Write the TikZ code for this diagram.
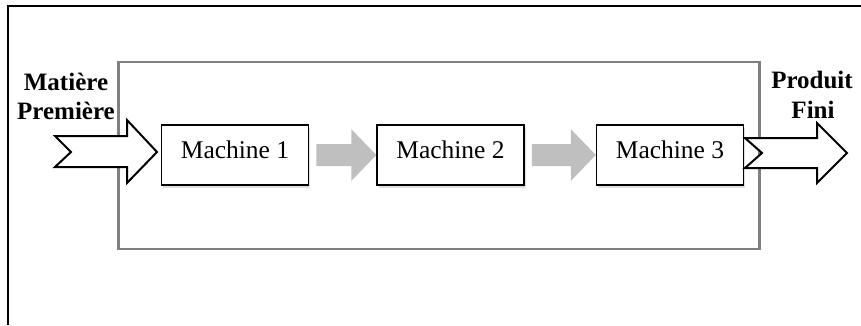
\documentclass[tikz,border=0pt]{standalone}
\usepackage{fontspec}
\setmainfont{Liberation Serif}
\usetikzlibrary{positioning,calc,shadows}

\tikzset{
  machine/.style={draw,line width=1.5pt,fill=white,minimum width=147pt,minimum height=60pt,
    text depth=11pt,font=\fontsize{25.5}{30}\selectfont,
    drop shadow={shadow xshift=1.5pt,shadow yshift=-2.5pt,opacity=0.25}},
  bigarrow/.style={draw,fill=white,line width=2pt,line join=miter},
  flowarrow/.style={fill=gray!50},
  label/.style={anchor=base,inner sep=0,font=\fontsize{25}{30}\selectfont\bfseries}
}

\begin{document}
\begin{tikzpicture}[x=1pt,y=-1pt]
  \useasboundingbox (0,0) rectangle (861,325);

  % frame
  \draw[line width=2pt] (8,325) -- (8,6) -- (861,6);

  % system
  \node[draw=gray,line width=2.5pt,minimum width=641pt,minimum height=187pt,inner sep=0] (sys) at (438.8,155.5) {};

  \node[machine] (m1) at (235,155) {Machine 1};
  \node[machine,right=67pt of m1] (m2) {Machine 2};
  \node[machine,right=71pt of m2] (m3) {Machine 3};

  \foreach \a/\b in {m1/m2,m2/m3}
    \fill[flowarrow] let \p1=(\a.east), \p2=(\b.west) in
      (\x1+7pt,\y1+11pt) -- (\x2-25pt,\y1+11pt) -- (\x2-25pt,\y1+26pt) -- (\x2,\y1)
      -- (\x2-25pt,\y1-26pt) -- (\x2-25pt,\y1-11pt) -- (\x1+7pt,\y1-11pt) -- cycle;

  % input / output
  \draw[bigarrow] (55,136) -- (127,136) -- (127,120) -- (157,152) -- (127,183) -- (127,167) -- (55,167) -- (71,152) -- cycle;
  \draw[bigarrow] (745,138) -- (817,138) -- (817,123) -- (847,153) -- (817,183) -- (817,168) -- (745,168) -- (762,153) -- cycle;

  \node[label] (mp1) at (66,90) {Matière};
  \node[label] (mp2) at (66,119) {Première};
  \node[label] (pf1) at (812,88) {Produit};
  \node[label] (pf2) at (813,118) {Fini};
\end{tikzpicture}
\end{document}
